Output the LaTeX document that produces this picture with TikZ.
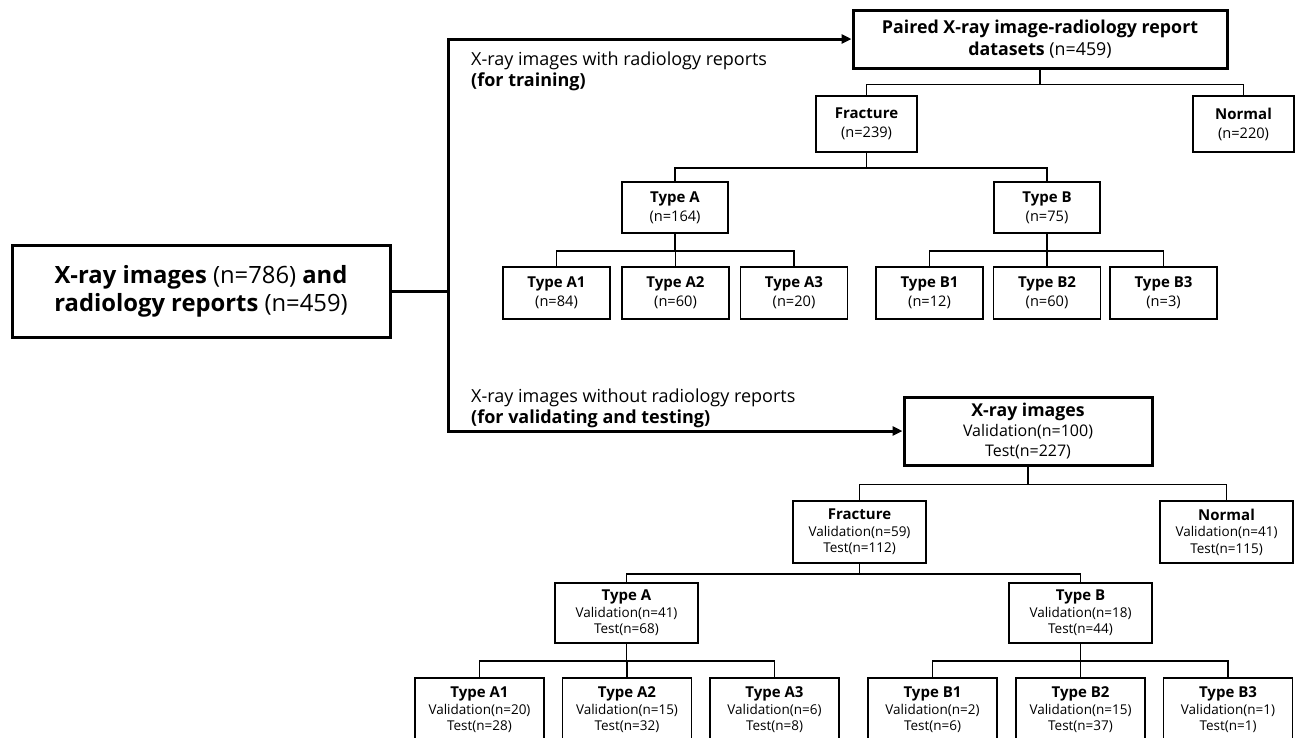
\documentclass[tikz,border=0pt]{standalone}
\usepackage{fontspec}
\setmainfont{Open Sans}
\usetikzlibrary{arrows.meta}

% bold heading line inside the small tree boxes
\newcommand\hdline[1]{{\fontsize{15}{16.5}\selectfont\bfseries #1}}

\begin{document}
\begin{tikzpicture}[x=1pt,y=-1pt,
  box/.style={draw, line width=1.8pt, inner sep=0pt, align=center, anchor=center},
  heavybox/.style={box, line width=3pt},
  sz/.style 2 args={minimum width=#1pt, minimum height=#2pt},
  toptree/.style={font=\fontsize{14.6}{19}\selectfont},
  lowtree/.style={font=\fontsize{13.5}{16.5}\selectfont},
  link/.style={line width=1.8pt},
  trunk/.style={line width=3pt},
  flow/.style={trunk, -{Triangle[length=10pt,width=9pt]}},
  caption/.style={anchor=base west, inner sep=0pt, font=\fontsize{18}{21}\selectfont}
]
\fill[white] (0,0) rectangle (1298,737);
\useasboundingbox (0,0) rectangle (1298,737);
\clip (0,0) rectangle (1298,737);

% source data
\node[heavybox, sz={378}{92}, font=\fontsize{23.8}{28}\selectfont] (root) at (201,291)
  {\textbf{X-ray images} (n=786) \textbf{and}\\\textbf{radiology reports} (n=459)};

% ---------- training branch ----------
\node[heavybox, sz={374}{58}, font=\fontsize{17.8}{22}\selectfont] (paired) at (1040,39)
  {\textbf{Paired X-ray image-radiology report}\\\textbf{datasets} (n=459)};

\node[box, toptree, sz={101}{56}] (fr1) at (866.5,124) {\hdline{Fracture}\\(n=239)};
\node[box, toptree, sz={101}{56}] (no1) at (1243.5,124) {\hdline{Normal}\\(n=220)};

\node[box, toptree, sz={106}{51}] (ta1) at (675,207.5) {\hdline{Type A}\\(n=164)};
\node[box, toptree, sz={106}{51}] (tb1) at (1047,207.5) {\hdline{Type B}\\(n=75)};

\node[box, toptree, sz={107}{52}] (a11) at (556.5,293) {\hdline{Type A1}\\(n=84)};
\node[box, toptree, sz={107}{52}] (a12) at (675.5,293) {\hdline{Type A2}\\(n=60)};
\node[box, toptree, sz={107}{52}] (a13) at (794,293) {\hdline{Type A3}\\(n=20)};
\node[box, toptree, sz={107}{52}] (b11) at (929.5,293) {\hdline{Type B1}\\(n=12)};
\node[box, toptree, sz={107}{52}] (b12) at (1047,293) {\hdline{Type B2}\\(n=60)};
\node[box, toptree, sz={107}{52}] (b13) at (1163.5,293) {\hdline{Type B3}\\(n=3)};

% ---------- validation / test branch ----------
\node[heavybox, sz={248}{68}, font=\fontsize{16}{20}\selectfont] (xr) at (1028,431)
  {{\fontsize{17.7}{20}\selectfont\bfseries X-ray images}\\Validation(n=100)\\Test(n=227)};

\node[box, lowtree, sz={133}{62}] (fr2) at (859.5,532) {\hdline{Fracture}\\Validation(n=59)\\Test(n=112)};
\node[box, lowtree, sz={133}{62}] (no2) at (1226.5,532) {\hdline{Normal}\\Validation(n=41)\\Test(n=115)};

\node[box, lowtree, sz={143}{60}] (ta2) at (626.5,613) {\hdline{Type A}\\Validation(n=41)\\Test(n=68)};
\node[box, lowtree, sz={143}{60}] (tb2) at (1080.5,613) {\hdline{Type B}\\Validation(n=18)\\Test(n=44)};

\node[box, lowtree, sz={129}{64}] (a21) at (479.5,710) {\hdline{Type A1}\\Validation(n=20)\\Test(n=28)};
\node[box, lowtree, sz={129}{64}] (a22) at (627,710) {\hdline{Type A2}\\Validation(n=15)\\Test(n=32)};
\node[box, lowtree, sz={129}{64}] (a23) at (774.5,710) {\hdline{Type A3}\\Validation(n=6)\\Test(n=8)};
\node[box, lowtree, sz={129}{64}] (b21) at (932.5,710) {\hdline{Type B1}\\Validation(n=2)\\Test(n=6)};
\node[box, lowtree, sz={129}{64}] (b22) at (1080.5,710) {\hdline{Type B2}\\Validation(n=15)\\Test(n=37)};
\node[box, lowtree, sz={129}{64}] (b23) at (1228,710) {\hdline{Type B3}\\Validation(n=1)\\Test(n=1)};

% branch captions
\node[caption] (cap1a) at (471,65) {X-ray images with radiology reports};
\node[caption] (cap1b) at (471,86) {\textbf{(for training)}};
\node[caption] (cap2a) at (471,402) {X-ray images without radiology reports};
\node[caption] (cap2b) at (471,423) {\textbf{(for validating and testing)}};

% split of the source into the two branches
\coordinate (hub) at (448,291);
\draw[trunk] (root.east) -- (hub);
\draw[flow] (hub) |- (paired.west);
\draw[flow] (hub) |- (xr.west);

% tree connectors
\foreach \p/\c/\d in {paired/fr1/15, paired/no1/15,
                      fr1/ta1/15, fr1/tb1/15,
                      ta1/a11/17, ta1/a12/17, ta1/a13/17,
                      tb1/b11/17, tb1/b12/17, tb1/b13/17,
                      xr/fr2/18, xr/no2/18,
                      fr2/ta2/10, fr2/tb2/10,
                      ta2/a21/17, ta2/a22/17, ta2/a23/17,
                      tb2/b21/17, tb2/b22/17, tb2/b23/17}
  \draw[link] (\p.south) -- ++(0,\d) -| (\c.north);
\end{tikzpicture}
\end{document}
